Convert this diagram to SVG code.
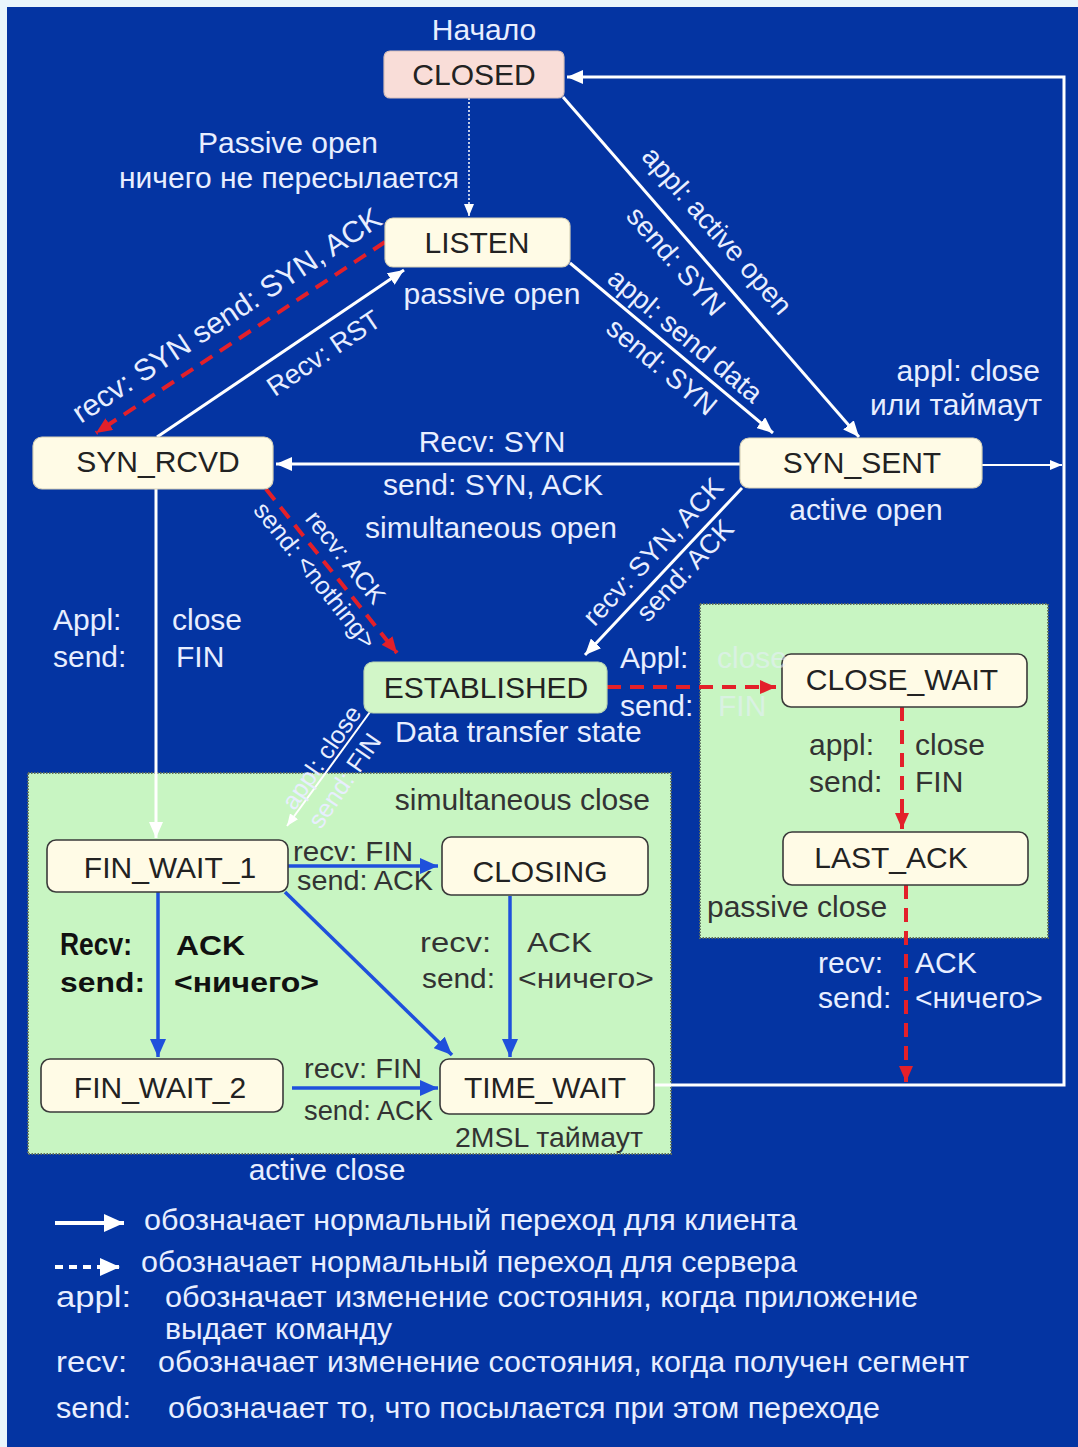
<svg xmlns="http://www.w3.org/2000/svg" width="1078" height="1447" viewBox="0 0 1078 1447">
  <style>
    text { font-family: "Liberation Sans", Arial, sans-serif; }
    .lw { fill: #e8eeff; font-size: 30px; }
    .faint { fill-opacity: 0.55; }
    .ld { fill: #333333; font-size: 30px; }
    .lb { fill: #111111; font-size: 28px; font-weight: bold; }
    .lb30 { font-size: 31px; }
    .r28 { font-size: 28px; }
    .r27 { font-size: 27px; }
    .r25 { font-size: 25px; }
    .mid { text-anchor: middle; }
    .end { text-anchor: end; }
    .nt { fill: #222222; font-size: 30px; text-anchor: middle; }
    .st { fill: #fffbe6; stroke: #d8d2b8; stroke-width: 1.2; }
    .st-in { fill: #fffbe6; stroke: #3a3a3a; stroke-width: 1.6; }
    .panel { fill: #c8f5c2; stroke: #5e6e5e; stroke-width: 2; stroke-dasharray: 1.5 1.5; }
    .cw { fill: none; stroke: #ffffff; stroke-width: 3; }
    .cw-thin { fill: none; stroke: #ffffff; stroke-width: 2; }
    .cr { fill: none; stroke: #e3202a; stroke-width: 4; stroke-dasharray: 14 9; }
    .cb { fill: none; stroke: #1f50dc; stroke-width: 3.5; }
  </style>
  <defs>
    <marker id="aw" viewBox="0 0 16 14" markerWidth="16" markerHeight="14" refX="16" refY="7" orient="auto" markerUnits="userSpaceOnUse">
      <path d="M0,0 L16,7 L0,14 z" fill="#ffffff"/>
    </marker>
    <marker id="awl" viewBox="0 0 20 18" markerWidth="20" markerHeight="18" refX="20" refY="9" orient="auto" markerUnits="userSpaceOnUse">
      <path d="M0,0 L20,9 L0,18 z" fill="#ffffff"/>
    </marker>
    <marker id="aws" viewBox="0 0 12 10" markerWidth="12" markerHeight="10" refX="12" refY="5" orient="auto" markerUnits="userSpaceOnUse">
      <path d="M0,0 L12,5 L0,10 z" fill="#ffffff"/>
    </marker>
    <marker id="ar" viewBox="0 0 16 14" markerWidth="16" markerHeight="14" refX="16" refY="7" orient="auto" markerUnits="userSpaceOnUse">
      <path d="M0,0 L16,7 L0,14 z" fill="#e3202a"/>
    </marker>
    <marker id="ab" viewBox="0 0 18 16" markerWidth="18" markerHeight="16" refX="18" refY="8" orient="auto" markerUnits="userSpaceOnUse">
      <path d="M0,0 L18,8 L0,16 z" fill="#1f50dc"/>
    </marker>
  </defs>

  <!-- page and background -->
  <rect x="0" y="0" width="1078" height="1447" fill="#eaf6fc"/>
  <rect x="7" y="7" width="1071" height="1440" fill="#0434a2"/>

  <!-- shaded regions -->
  <rect class="panel" x="28" y="773" width="643" height="381"/>
  <rect class="panel" x="700" y="604" width="348" height="334"/>

  <!-- transitions -->
  <g id="connectors">
    <!-- CLOSED -> LISTEN (passive open) -->
    <line x1="469" y1="98" x2="469" y2="216" fill="none" stroke="#ffffff" stroke-width="1.5" stroke-dasharray="2 2" marker-end="url(#aws)"/>
    <!-- CLOSED -> SYN_SENT -->
    <line class="cw" x1="563" y1="97" x2="859" y2="437" marker-end="url(#aw)"/>
    <!-- LISTEN -> SYN_SENT -->
    <line class="cw" x1="570" y1="263" x2="773" y2="433" marker-end="url(#aw)"/>
    <!-- LISTEN -> SYN_RCVD (server) -->
    <line class="cr" x1="385" y1="242" x2="96" y2="433" marker-end="url(#ar)"/>
    <!-- SYN_RCVD -> LISTEN -->
    <line class="cw" x1="157" y1="437" x2="404" y2="270" marker-end="url(#aw)"/>
    <!-- SYN_SENT -> SYN_RCVD -->
    <line class="cw" x1="740" y1="464" x2="276" y2="464" marker-end="url(#aw)"/>
    <!-- SYN_SENT -> CLOSED (close / timeout) -->
    <line class="cw-thin" x1="982" y1="465" x2="1062" y2="465" marker-end="url(#aws)"/>
    <!-- SYN_RCVD -> ESTABLISHED (server) -->
    <line class="cr" x1="266" y1="489" x2="397" y2="653" marker-end="url(#ar)"/>
    <!-- SYN_SENT -> ESTABLISHED -->
    <line class="cw" x1="742" y1="488" x2="585" y2="655" marker-end="url(#aw)"/>
    <!-- SYN_RCVD -> FIN_WAIT_1 -->
    <line class="cw" x1="156" y1="489" x2="156" y2="838" marker-end="url(#aw)"/>
    <!-- ESTABLISHED -> FIN_WAIT_1 -->
    <line class="cw-thin" x1="370" y1="712" x2="287" y2="826" marker-end="url(#aws)"/>
    <!-- ESTABLISHED -> CLOSE_WAIT (server) -->
    <line class="cr" x1="607" y1="687" x2="776" y2="687" marker-end="url(#ar)"/>
    <!-- CLOSE_WAIT -> LAST_ACK -->
    <line class="cr" x1="902" y1="707" x2="902" y2="829" stroke-dasharray="10 7" marker-end="url(#ar)"/>
    <!-- LAST_ACK -> CLOSED -->
    <line class="cr" x1="906" y1="885" x2="906" y2="1082" stroke-dasharray="10 7" marker-end="url(#ar)"/>
    <!-- TIME_WAIT -> CLOSED -->
    <polyline class="cw" points="654,1085 1064,1085 1064,77 567,77" marker-end="url(#aw)"/>
    <!-- active close transitions -->
    <line class="cb" x1="288" y1="866" x2="438" y2="866" stroke-width="4" marker-end="url(#ab)"/>
    <line class="cb" x1="285" y1="892" x2="452" y2="1055" marker-end="url(#ab)"/>
    <line class="cb" x1="158" y1="892" x2="158" y2="1057" marker-end="url(#ab)"/>
    <line class="cb" x1="510" y1="896" x2="510" y2="1057" marker-end="url(#ab)"/>
    <line class="cb" x1="292" y1="1088" x2="438" y2="1088" stroke-width="6" marker-end="url(#ab)"/>
  </g>

  <!-- states -->
  <g id="closed">
    <rect x="384" y="51" width="180" height="47" rx="6" fill="#f9ddd8" stroke="#d8c0ba" stroke-width="1.2"/>
    <text class="nt" x="474" y="85">CLOSED</text>
  </g>
  <g id="listen">
    <rect class="st" x="385" y="218" width="185" height="49" rx="8"/>
    <text class="nt" x="477" y="253">LISTEN</text>
  </g>
  <g id="syn-rcvd">
    <rect class="st" x="33" y="437" width="240" height="52" rx="9"/>
    <text class="nt" x="158" y="472">SYN_RCVD</text>
  </g>
  <g id="syn-sent">
    <rect class="st" x="740" y="438" width="242" height="50" rx="9"/>
    <text class="nt" x="862" y="473">SYN_SENT</text>
  </g>
  <g id="established">
    <rect x="364" y="662" width="243" height="51" rx="9" fill="#d2f6c8" stroke="#bcd8b4" stroke-width="1.2"/>
    <text class="nt" x="486" y="698">ESTABLISHED</text>
  </g>
  <g id="close-wait">
    <rect class="st-in" x="782" y="654" width="245" height="53" rx="9"/>
    <text class="nt" x="902" y="690">CLOSE_WAIT</text>
  </g>
  <g id="last-ack">
    <rect class="st-in" x="783" y="832" width="245" height="53" rx="9"/>
    <text class="nt" x="891" y="868">LAST_ACK</text>
  </g>
  <g id="fin-wait-1">
    <rect class="st-in" x="47" y="840" width="241" height="52" rx="9"/>
    <text class="nt" x="170" y="878">FIN_WAIT_1</text>
  </g>
  <g id="closing">
    <rect class="st-in" x="442" y="837" width="206" height="58" rx="9"/>
    <text class="nt" x="540" y="882">CLOSING</text>
  </g>
  <g id="fin-wait-2">
    <rect class="st-in" x="41" y="1059" width="242" height="53" rx="9"/>
    <text class="nt" x="160" y="1098">FIN_WAIT_2</text>
  </g>
  <g id="time-wait">
    <rect class="st-in" x="440" y="1059" width="214" height="55" rx="9"/>
    <text class="nt" x="545" y="1098">TIME_WAIT</text>
  </g>

  <!-- labels on the blue field -->
  <g id="labels">
    <text class="lw mid" x="484" y="40">Начало</text>
    <text class="lw mid" x="288" y="153">Passive open</text>
    <text class="lw mid" x="289" y="188">ничего не пересылается</text>
    <text class="lw mid" x="492" y="304">passive open</text>
    <text class="lw end" x="1040" y="381">appl: close</text>
    <text class="lw end" x="1042" y="415">или таймаут</text>
    <text class="lw mid" x="492" y="452">Recv: SYN</text>
    <text class="lw mid" x="493" y="495">send: SYN, ACK</text>
    <text class="lw mid" x="491" y="538">simultaneous open</text>
    <text class="lw mid" x="866" y="520">active open</text>
    <text class="lw" x="53" y="630">Appl:</text>
    <text class="lw" x="172" y="630">close</text>
    <text class="lw" x="53" y="667">send:</text>
    <text class="lw" x="176" y="667">FIN</text>
    <text class="lw" x="395" y="742">Data transfer state</text>
    <text class="lw" x="620" y="668">Appl:</text>
    <text class="lw faint" x="717" y="668">close</text>
    <text class="lw" x="620" y="716">send:</text>
    <text class="lw faint" x="718" y="716">FIN</text>
    <text class="lw" x="818" y="973">recv:</text>
    <text class="lw" x="915" y="973">ACK</text>
    <text class="lw" x="818" y="1008">send:</text>
    <text class="lw" x="915" y="1008">&lt;ничего&gt;</text>
    <text class="lw mid" x="327" y="1180">active close</text>

    <!-- slanted labels along diagonal transitions -->
    <g transform="translate(563,97) rotate(48.95)">
      <text class="lw r28 mid" x="202" y="-19">appl: active open</text>
      <text class="lw r28 mid" x="198" y="32">send: SYN</text>
    </g>
    <g transform="translate(570,263) rotate(39.95)">
      <text class="lw r28 mid" x="135" y="-9">appl: send data</text>
      <text class="lw r28 mid" x="137" y="30">send: SYN</text>
    </g>
    <g transform="translate(96,433) rotate(-33.46)">
      <text class="lw mid" x="174" y="-16">recv: SYN send: SYN, ACK</text>
    </g>
    <g transform="translate(157,437) rotate(-34.06)">
      <text class="lw r27 mid" x="185" y="33">Recv: RST</text>
    </g>
    <g transform="translate(266,489) rotate(51.38)">
      <text class="lw r25 mid" x="103" y="-11">recv: ACK</text>
      <text class="lw r25 mid" x="98" y="24">send: &lt;nothing&gt;</text>
    </g>
    <g transform="translate(585,655) rotate(-46.77)">
      <text class="lw r27 mid" x="122" y="-12">recv: SYN, ACK</text>
      <text class="lw r27 mid" x="130" y="24">send: ACK</text>
    </g>
    <g transform="translate(287,826) rotate(-55.4)">
      <text class="lw r25 mid" x="76" y="-2">appl: close</text>
      <text class="lw r25 mid" x="70" y="30">send: FIN</text>
    </g>

    <!-- labels inside the shaded regions -->
    <text class="ld end" x="650" y="810">simultaneous close</text>
    <text class="ld" x="809" y="755">appl:</text>
    <text class="ld" x="915" y="755">close</text>
    <text class="ld" x="809" y="792">send:</text>
    <text class="ld" x="915" y="792">FIN</text>
    <text class="ld" x="707" y="917">passive close</text>
    <text class="ld r28" x="293" y="861" textLength="120" lengthAdjust="spacingAndGlyphs">recv: FIN</text>
    <text class="ld r28" x="297" y="890" textLength="136" lengthAdjust="spacingAndGlyphs">send: ACK</text>
    <text class="lb lb30" x="60" y="955" textLength="72" lengthAdjust="spacingAndGlyphs">Recv:</text>
    <text class="lb" x="176" y="955" textLength="69" lengthAdjust="spacingAndGlyphs">ACK</text>
    <text class="lb" x="60" y="992" textLength="85" lengthAdjust="spacingAndGlyphs">send:</text>
    <text class="lb" x="174" y="992" textLength="145" lengthAdjust="spacingAndGlyphs">&lt;ничего&gt;</text>
    <text class="ld r28" x="420" y="952" textLength="71" lengthAdjust="spacingAndGlyphs">recv:</text>
    <text class="ld r28" x="527" y="952" textLength="65" lengthAdjust="spacingAndGlyphs">ACK</text>
    <text class="ld r28" x="422" y="988" textLength="73" lengthAdjust="spacingAndGlyphs">send:</text>
    <text class="ld r28" x="518" y="988" textLength="136" lengthAdjust="spacingAndGlyphs">&lt;ничего&gt;</text>
    <text class="ld r28" x="304" y="1078" textLength="118" lengthAdjust="spacingAndGlyphs">recv:  FIN</text>
    <text class="ld r28" x="304" y="1120" textLength="129" lengthAdjust="spacingAndGlyphs">send: ACK</text>
    <text class="ld r28" x="455" y="1147" textLength="188" lengthAdjust="spacingAndGlyphs">2MSL таймаут</text>
  </g>

  <!-- legend -->
  <g id="legend">
    <line x1="55" y1="1223" x2="124" y2="1223" stroke="#ffffff" stroke-width="4" marker-end="url(#awl)"/>
    <text class="lw" x="144" y="1230" textLength="653" lengthAdjust="spacingAndGlyphs">обозначает нормальный переход для клиента</text>
    <line x1="55" y1="1267" x2="120" y2="1267" stroke="#ffffff" stroke-width="4" stroke-dasharray="8 6" marker-end="url(#awl)"/>
    <text class="lw" x="141" y="1272" textLength="656" lengthAdjust="spacingAndGlyphs">обозначает нормальный переход для сервера</text>
    <text class="lw" x="56" y="1307" textLength="75" lengthAdjust="spacingAndGlyphs">appl:</text>
    <text class="lw" x="165" y="1307" textLength="753" lengthAdjust="spacingAndGlyphs">обозначает изменение состояния, когда приложение</text>
    <text class="lw" x="165" y="1339" textLength="227" lengthAdjust="spacingAndGlyphs">выдает команду</text>
    <text class="lw" x="56" y="1372" textLength="71" lengthAdjust="spacingAndGlyphs">recv:</text>
    <text class="lw" x="158" y="1372" textLength="811" lengthAdjust="spacingAndGlyphs">обозначает изменение состояния, когда получен сегмент</text>
    <text class="lw" x="56" y="1418" textLength="75" lengthAdjust="spacingAndGlyphs">send:</text>
    <text class="lw" x="168" y="1418" textLength="712" lengthAdjust="spacingAndGlyphs">обозначает то, что посылается при этом переходе</text>
  </g>
</svg>
